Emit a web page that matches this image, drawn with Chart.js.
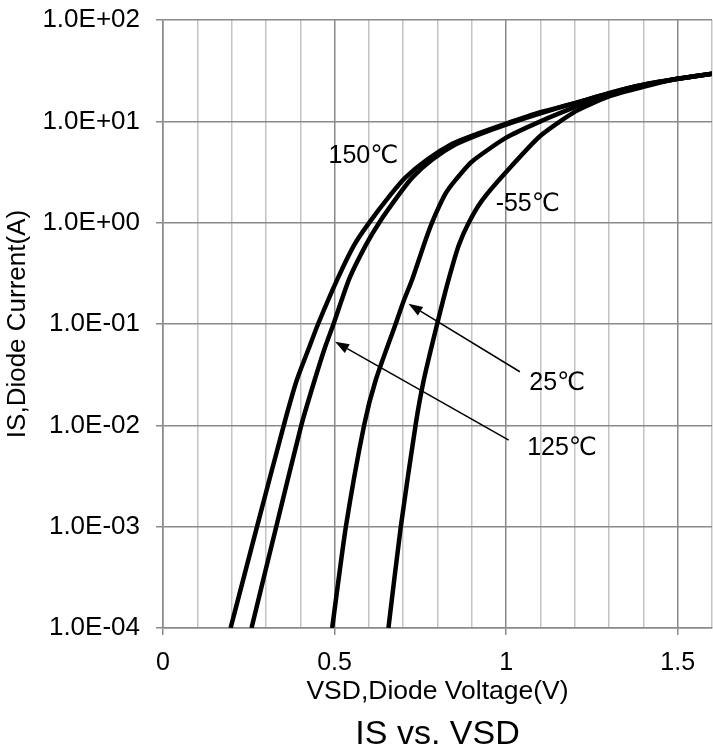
<!DOCTYPE html>
<html>
<head>
<meta charset="utf-8">
<script src="https://cdn.jsdelivr.net/npm/chart.js@4"></script>
<style>
    html, body { margin: 0; padding: 0; background: #fff; }
    #wrap { width: 713px; height: 751px; }
</style>
</head>
<body>
<div id="wrap"><canvas id="diodeChart" width="713" height="751"></canvas></div>
<script>
// IS vs. VSD (V, A)
const vsd150 = [0.197, 0.274, 0.352, 0.390, 0.427, 0.452, 0.509, 0.557, 0.601, 0.664, 0.707, 0.770, 0.843, 0.90, 1.00, 1.10, 1.20, 1.30, 1.40, 1.50, 1.60];
const is150  = [1e-4, 1e-3, 1e-2, 0.028, 0.06, 0.1, 0.28, 0.6, 1.0, 1.9, 2.8, 4.2, 6.0, 7.2, 9.5, 12.3, 15.1, 19.0, 23.0, 26.3, 29.5];

const vsd125 = [0.258, 0.330, 0.403, 0.442, 0.473, 0.497, 0.543, 0.591, 0.630, 0.688, 0.727, 0.785, 0.852, 0.92, 1.00, 1.10, 1.20, 1.30, 1.40, 1.50, 1.60];
const is125  = [1e-4, 1e-3, 1e-2, 0.028, 0.06, 0.1, 0.28, 0.6, 1.0, 1.9, 2.8, 4.2, 5.9, 7.4, 9.3, 12.0, 15.1, 19.0, 23.0, 26.3, 29.5];

const vsd25 = [0.493, 0.533, 0.586, 0.620, 0.678, 0.700, 0.727, 0.760, 0.784, 0.822, 0.851, 0.90, 1.00, 1.10, 1.20, 1.30, 1.40, 1.50, 1.60];
const is25  = [1e-4, 1e-3, 1e-2, 0.028, 0.1, 0.164, 0.28, 0.6, 1.0, 1.9, 2.6, 4.0, 6.9, 10.0, 13.8, 18.6, 22.6, 26.3, 29.5];

const vsdM55 = [0.657, 0.693, 0.736, 0.760, 0.799, 0.833, 0.862, 0.891, 0.93, 1.00, 1.10, 1.20, 1.30, 1.40, 1.50, 1.60];
const isM55  = [1e-4, 1e-3, 1e-2, 0.028, 0.1, 0.28, 0.6, 1.0, 1.66, 3.16, 7.2, 12.4, 17.6, 21.9, 26.3, 29.5];

const yTickValues = [1e-4, 1e-3, 1e-2, 1e-1, 1, 10, 100];
const yTickLabels = ['1.0E-04', '1.0E-03', '1.0E-02', '1.0E-01', '1.0E+00', '1.0E+01', '1.0E+02'];
const xTickLabels = ['0', '0.5', '1', '1.5'];

// curve names and arrows, in data units
const curveLabels = [
    { text: '150℃', x: 0.584, y: 4.5 },
    { text: '-55℃', x: 1.063, y: 1.53 },
    { text: '25℃', x: 1.149, y: 0.026 },
    { text: '125℃', x: 1.163, y: 0.006 },
];
const arrows = [
    { from: [1.040, 0.0338], to: [0.7155, 0.158] },
    { from: [1.0076, 0.00714], to: [0.5015, 0.0668] },
];

const FONT = '"Liberation Sans", Arial, "DejaVu Sans", sans-serif';

function toPoints(vs, is) {
    return vs.map((v, i) => ({ x: v, y: is[i] }));
}

function curve(label, vs, is) {
    return {
        label: label,
        data: toPoints(vs, is),
        borderColor: '#000',
        borderWidth: 4.5,
        pointRadius: 0,
        tension: 0.2,
        borderJoinStyle: 'round',
        fill: false,
    };
}

const isHalf = v => Math.abs(v * 2 - Math.round(v * 2)) < 1e-6;

const notesPlugin = {
    id: 'notes',
    afterDatasetsDraw(chart) {
        const { ctx, chartArea } = chart;
        const x = chart.scales.x, y = chart.scales.y;
        ctx.save();
        ctx.fillStyle = '#000';
        ctx.strokeStyle = '#000';
        ctx.font = '25px ' + FONT;
        ctx.textAlign = 'center';
        ctx.textBaseline = 'middle';
        curveLabels.forEach(l => {
            ctx.fillText(l.text, x.getPixelForValue(l.x), y.getPixelForValue(l.y));
        });
        arrows.forEach(a => {
            const x0 = x.getPixelForValue(a.from[0]), y0 = y.getPixelForValue(a.from[1]);
            const x1 = x.getPixelForValue(a.to[0]), y1 = y.getPixelForValue(a.to[1]);
            const ang = Math.atan2(y1 - y0, x1 - x0);
            const head = 14, half = 5;
            const bx = x1 - head * Math.cos(ang), by = y1 - head * Math.sin(ang);
            ctx.lineWidth = 1.5;
            ctx.beginPath();
            ctx.moveTo(x0, y0);
            ctx.lineTo(bx, by);
            ctx.stroke();
            ctx.beginPath();
            ctx.moveTo(x1, y1);
            ctx.lineTo(bx + half * Math.sin(ang), by - half * Math.cos(ang));
            ctx.lineTo(bx - half * Math.sin(ang), by + half * Math.cos(ang));
            ctx.closePath();
            ctx.fill();
        });
        // main title sits under the plot area, centred on it
        ctx.font = '34px ' + FONT;
        ctx.fillText('IS vs. VSD', (chartArea.left + chartArea.right) / 2, 735);
        ctx.restore();
    }
};

new Chart(document.getElementById('diodeChart').getContext('2d'), {
    type: 'line',
    data: {
        datasets: [
            curve('150℃', vsd150, is150),
            curve('125℃', vsd125, is125),
            curve('25℃', vsd25, is25),
            curve('-55℃', vsdM55, isM55),
        ]
    },
    options: {
        responsive: false,
        animation: false,
        devicePixelRatio: 1,
        layout: { padding: { left: 0, right: 1, top: 20, bottom: 38 } },
        plugins: {
            legend: { display: false },
            tooltip: { enabled: false },
            title: { display: false }
        },
        scales: {
            x: {
                type: 'linear',
                min: 0,
                max: 1.6,
                // fixed box; drop the label overhang padding so the plot runs to the edge
                afterFit: s => { s.height = 85; s.paddingLeft = 0; s.paddingRight = 0; },
                ticks: {
                    stepSize: 0.1,
                    autoSkip: false,
                    maxRotation: 0,
                    padding: 13,
                    color: '#000',
                    font: { family: FONT, size: 25 },
                    callback: v => isHalf(v) ? (xTickLabels[Math.round(v * 2)] || '') : ''
                },
                grid: {
                    color: c => isHalf(c.tick.value) ? '#8a8a8a' : '#c4c4c4',
                    tickColor: c => isHalf(c.tick.value) ? '#8a8a8a' : 'rgba(0,0,0,0)',
                    lineWidth: 1.5,
                    tickLength: 7
                },
                border: { color: '#8a8a8a', width: 1.5 },
                title: {
                    display: true,
                    text: 'VSD,Diode Voltage(V)',
                    color: '#000',
                    font: { family: FONT, size: 26.5 },
                    padding: { top: 0, bottom: 5 }
                }
            },
            y: {
                type: 'logarithmic',
                min: 1e-4,
                max: 100,
                afterFit: s => { s.width = 163; s.paddingTop = 0; s.paddingBottom = 0; },
                afterBuildTicks: s => { s.ticks = yTickValues.map(v => ({ value: v })); },
                ticks: {
                    padding: 16,
                    color: '#000',
                    font: { family: FONT, size: 26 },
                    callback: (v, i) => yTickLabels[i]
                },
                grid: {
                    color: '#8a8a8a',
                    tickColor: '#8a8a8a',
                    lineWidth: 1.5,
                    tickLength: 7
                },
                border: { color: '#8a8a8a', width: 1.5 },
                title: {
                    display: true,
                    text: 'IS,Diode Current(A)',
                    color: '#000',
                    font: { family: FONT, size: 26 },
                    padding: { top: 2, bottom: 0 }
                }
            }
        }
    },
    plugins: [notesPlugin]
});
</script>
</body>
</html>
